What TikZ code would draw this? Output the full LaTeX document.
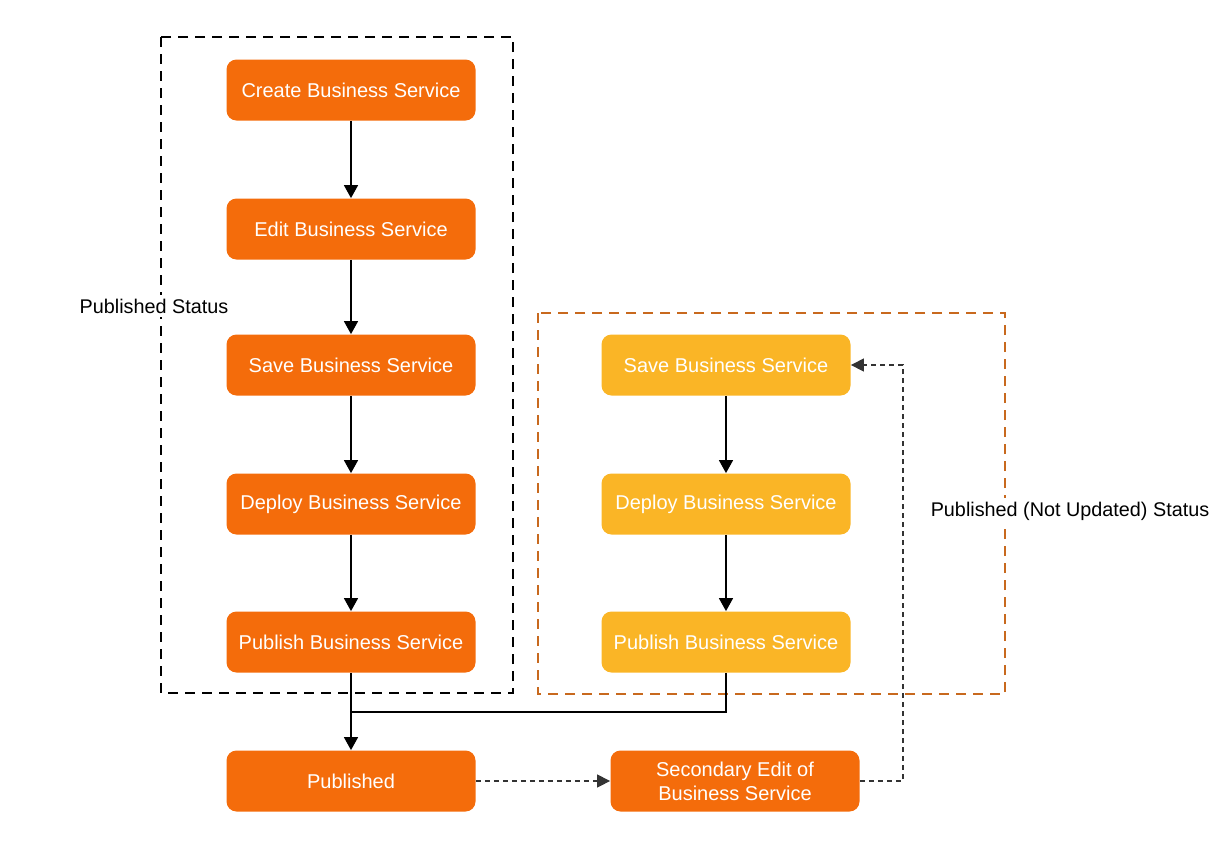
\documentclass[tikz,border=0pt]{standalone}
\usepackage{fontspec}
\setmainfont{Liberation Sans}
\usetikzlibrary{positioning,arrows.meta}
\definecolor{boxorange}{HTML}{F46C0B}
\definecolor{boxyellow}{HTML}{FAB526}
\definecolor{lineorange}{HTML}{C8691E}

\begin{document}
\begin{tikzpicture}[x=0.5pt,y=-0.5pt,
  stepbox/.style={rectangle,rounded corners=5pt,fill=boxorange,text=white,
    minimum width=124.5pt,minimum height=30.5pt,align=center,
    font=\fontsize{10}{12}\selectfont},
  redobox/.style={stepbox,fill=boxyellow},
  statusbox/.style={line width=1.4pt,dash pattern=on 5pt off 3.5pt},
  statuslabel/.style={fill=white,inner sep=2pt,font=\fontsize{9.9}{12}\selectfont},
  flow/.style={line width=0.75pt,-{Triangle[length=6.5pt,width=7pt]}},
  backflow/.style={line width=0.65pt,black!80,dash pattern=on 2.5pt off 2pt,
    -{Triangle[length=6.5pt,width=6.5pt]}}]
\useasboundingbox (0,0) rectangle (1232,864);

% status frames
\draw[statusbox] (161,37) rectangle (513,693);
\draw[statusbox,lineorange] (538,313) rectangle (1005,694);
\node[statuslabel] (pubstatus) at (154,306) {Published Status};
\node[statuslabel] (oldstatus) at (1070,511) {Published (Not Updated) Status};

% first publication
\node[stepbox] (create) at (351,90) {Create Business Service};
\node[stepbox] (edit) at (351,229) {Edit Business Service};
\node[stepbox] (save) at (351,365) {Save Business Service};
\node[stepbox] (deploy) at (351,504) {Deploy Business Service};
\node[stepbox] (publish) at (351,642) {Publish Business Service};
\node[stepbox] (published) at (351,781) {Published};

% second publication
\node[redobox] (resave) at (726,365) {Save Business Service};
\node[redobox] (redeploy) at (726,504) {Deploy Business Service};
\node[redobox] (republish) at (726,642) {Publish Business Service};
\node[stepbox] (reedit) at (735,781) {Secondary Edit of\\Business Service};

\draw[flow] (create) -- (edit);
\draw[flow] (edit) -- (save);
\draw[flow] (save) -- (deploy);
\draw[flow] (deploy) -- (publish);
\draw[flow] (publish) -- (published);
\draw[flow] (resave) -- (redeploy);
\draw[flow] (redeploy) -- (republish);
\coordinate (join) at (351,712);
\draw[line width=0.75pt] (republish.south) |- (join);
\draw[backflow] (published) -- (reedit);
\draw[backflow] (reedit.east) -- ++(43,0) |- (resave.east);
\end{tikzpicture}
\end{document}
